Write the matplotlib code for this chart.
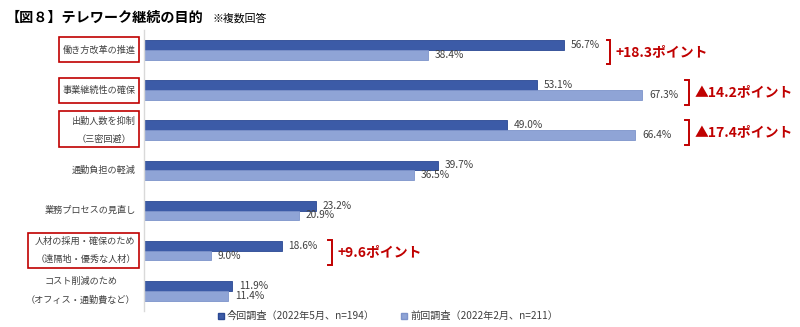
import matplotlib
matplotlib.use("Agg")
import matplotlib.pyplot as plt
from matplotlib.lines import Line2D
from matplotlib.patches import Rectangle

plt.rcParams['font.family'] = ['Noto Sans CJK JP', 'DejaVu Sans']

# ---- data ----
categories = [
    "働き方改革の推進",
    "事業継続性の確保",
    "出勤人数を抑制\n（三密回避）",
    "通勤負担の軽減",
    "業務プロセスの見直し",
    "人材の採用・確保のため\n（遠隔地・優秀な人材）",
    "コスト削減のため\n（オフィス・通勤費など）",
]
current = [56.7, 53.1, 49.0, 39.7, 23.2, 18.6, 11.9]   # 今回調査
previous = [38.4, 67.3, 66.4, 36.5, 20.9, 9.0, 11.4]   # 前回調査
series_labels = ["今回調査（2022年5月、n=194）", "前回調査（2022年2月、n=211）"]
highlighted = [0, 1, 2, 5]   # categories called out with a red frame and difference

DARK, DARK_EDGE = "#3C5BA7", "#2A4893"
LIGHT, LIGHT_EDGE = "#8FA4D6", "#7D93CA"
RED = "#C00000"
TXT = "#404040"

W, H = 800, 327
fig = plt.figure(figsize=(W / 100, H / 100), dpi=100)


def fx(px):
    return px / W


def fy(py):
    return 1 - py / H


ax = fig.add_axes([fx(144), fy(310.8), fx(592), (310.8 - 30) / H])

n = len(categories)
pos = list(range(n))
bh = 0.245
ax.barh([p - bh / 2 for p in pos], current, height=bh, color=DARK,
        edgecolor=DARK_EDGE, linewidth=0.6)
ax.barh([p + bh / 2 for p in pos], previous, height=bh, color=LIGHT,
        edgecolor=LIGHT_EDGE, linewidth=0.6)

ax.set_xlim(0, 80)
ax.set_ylim(n - 0.5, -0.5)
for s in ["top", "right", "bottom"]:
    ax.spines[s].set_visible(False)
ax.spines["left"].set_color("#D9D9D9")
ax.spines["left"].set_linewidth(1.0)
ax.set_xticks([])
ax.set_yticks([])

# value labels
for p, c, v in zip(pos, current, previous):
    ax.annotate(f"{c:.1f}%", (c, p - bh / 2), xytext=(5, 0),
                textcoords="offset points", va="center", ha="left",
                fontsize=7.3, color=TXT)
    ax.annotate(f"{v:.1f}%", (v, p + bh / 2), xytext=(5, 0),
                textcoords="offset points", va="center", ha="left",
                fontsize=7.3, color=TXT)

# category labels
for p, lab in zip(pos, categories):
    ax.annotate(lab, (0, p), xytext=(-6, 0), textcoords="offset points",
                ha="right", va="center", multialignment="center",
                fontsize=6.6, color=TXT, linespacing=2.3)

# difference call-outs with brackets
bracket_x = {0: 63.0, 1: 73.6, 2: 73.6, 5: 25.4}
for i in highlighted:
    diff = current[i] - previous[i]
    sign = "+" if diff > 0 else "▲"
    yc = i + 0.05
    half = 0.31
    bx = bracket_x[i]
    tick = 0.5
    ax.plot([bx - tick, bx, bx, bx - tick], [yc - half, yc - half, yc + half, yc + half],
            color=RED, lw=1.4, solid_joinstyle="miter", clip_on=False)
    ax.annotate(f"{sign}{abs(diff):.1f}ポイント", (bx, yc), xytext=(4, 0),
                textcoords="offset points", ha="left", va="center",
                fontsize=10, fontweight="bold", color=RED)

# red frames around highlighted category labels
frames = [(59, 37, 139, 62), (59, 78, 139, 103), (59, 111, 139, 147), (28.5, 233, 139, 268)]
for x0, y0, x1, y1 in frames:
    fig.patches.append(Rectangle((fx(x0), fy(y1)), fx(x1 - x0), (y1 - y0) / H,
                                 transform=fig.transFigure, fill=False,
                                 edgecolor=RED, linewidth=1.2))

# title
fig.text(fx(6), fy(17.5), "【図８】テレワーク継続の目的", fontsize=10.2,
         fontweight="bold", color="#000000", va="center", ha="left")
fig.text(fx(212), fy(19), "※複数回答", fontsize=7.8, color="#000000",
         va="center", ha="left")

# legend
handles = [
    Line2D([], [], marker="s", linestyle="none", markersize=4.2,
           markerfacecolor=DARK, markeredgecolor=DARK_EDGE),
    Line2D([], [], marker="s", linestyle="none", markersize=4.2,
           markerfacecolor=LIGHT, markeredgecolor=LIGHT_EDGE),
]
leg = fig.legend(handles, series_labels, loc="center", ncol=2,
                 bbox_to_anchor=(fx(388), fy(316)), frameon=False,
                 fontsize=7.3, handlelength=0.6, handletextpad=0.3,
                 columnspacing=2.6, borderaxespad=0, borderpad=0)
for t in leg.get_texts():
    t.set_color(TXT)

fig.savefig("out.png", dpi=100)
